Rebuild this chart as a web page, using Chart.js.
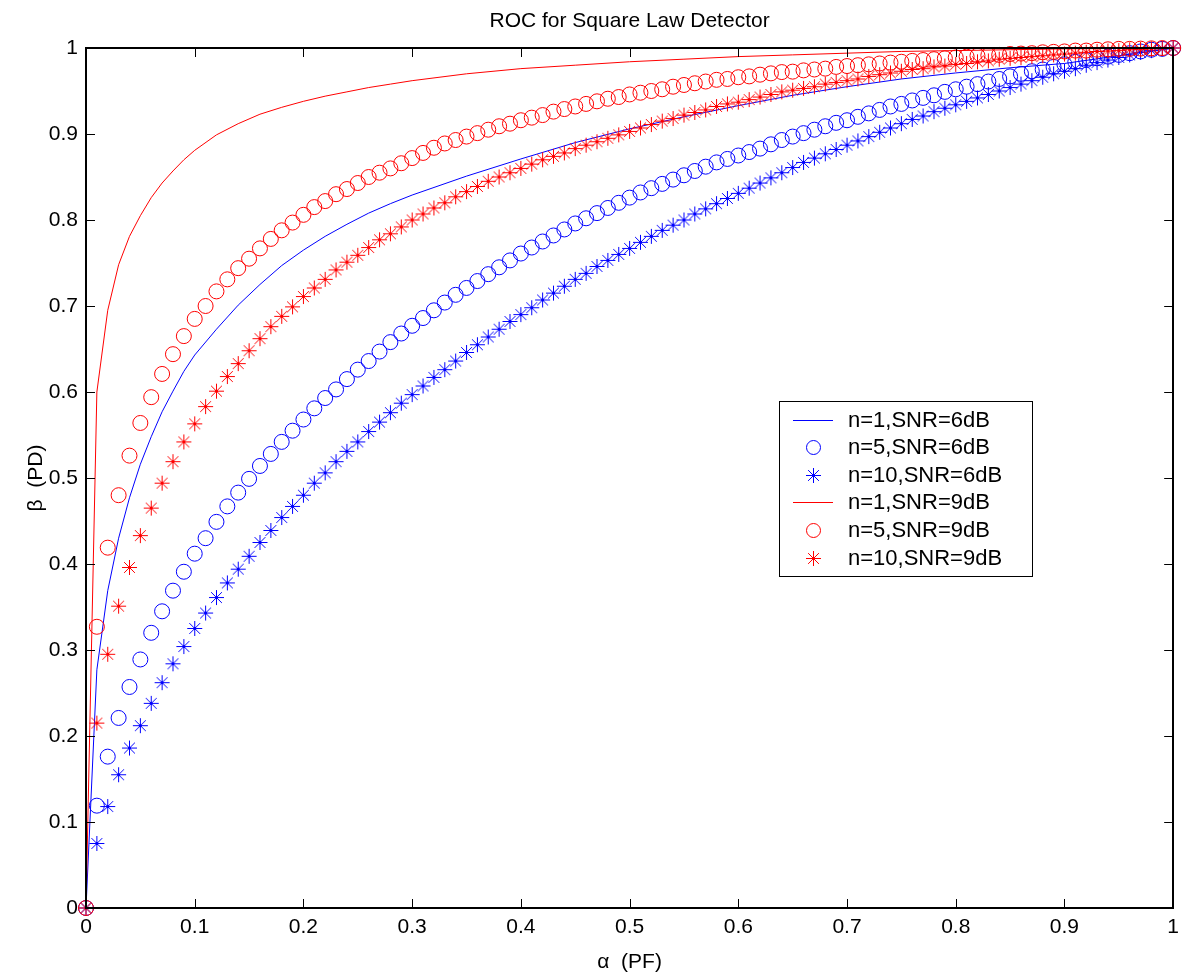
<!DOCTYPE html>
<html lang="en">
<head>
  <meta charset="UTF-8">
  <title>ROC for Square Law Detector</title>
  <script src="https://cdn.jsdelivr.net/npm/chart.js"></script>
  <style>
    body { margin: 0; background: #fff; }
    canvas { display: block; }
  </style>
</head>
<body>
  <canvas id="roc" width="1186" height="979"></canvas>

  <script>
    // PF values used by the marker series (step 0.01)
    const pf = [0, 0.01, 0.02, 0.03, 0.04, 0.05, 0.06, 0.07, 0.08, 0.09,
      0.1, 0.11, 0.12, 0.13, 0.14, 0.15, 0.16, 0.17, 0.18, 0.19,
      0.2, 0.21, 0.22, 0.23, 0.24, 0.25, 0.26, 0.27, 0.28, 0.29,
      0.3, 0.31, 0.32, 0.33, 0.34, 0.35, 0.36, 0.37, 0.38, 0.39,
      0.4, 0.41, 0.42, 0.43, 0.44, 0.45, 0.46, 0.47, 0.48, 0.49,
      0.5, 0.51, 0.52, 0.53, 0.54, 0.55, 0.56, 0.57, 0.58, 0.59,
      0.6, 0.61, 0.62, 0.63, 0.64, 0.65, 0.66, 0.67, 0.68, 0.69,
      0.7, 0.71, 0.72, 0.73, 0.74, 0.75, 0.76, 0.77, 0.78, 0.79,
      0.8, 0.81, 0.82, 0.83, 0.84, 0.85, 0.86, 0.87, 0.88, 0.89,
      0.9, 0.91, 0.92, 0.93, 0.94, 0.95, 0.96, 0.97, 0.98, 0.99, 1];

    // PF values used by the two n=1 lines
    const pfLine = [0, 0.01, 0.02, 0.03, 0.04, 0.05, 0.06, 0.07, 0.08, 0.09, 0.1,
      0.12, 0.14, 0.16, 0.18, 0.2, 0.22, 0.24, 0.26, 0.28, 0.3,
      0.35, 0.4, 0.45, 0.5, 0.55, 0.6, 0.65, 0.7, 0.75, 0.8, 0.85, 0.9, 0.95, 1];

    const pdN1Snr6 = [0, 0.277, 0.369, 0.43, 0.477, 0.516, 0.548, 0.577, 0.601, 0.624, 0.643,
      0.673, 0.701, 0.725, 0.747, 0.765, 0.781, 0.795, 0.808, 0.819, 0.829,
      0.851, 0.871, 0.89, 0.906, 0.92, 0.933, 0.945, 0.955, 0.964, 0.971, 0.977, 0.982, 0.991, 1];

    const pdN1Snr9 = [0, 0.6, 0.695, 0.748, 0.781, 0.805, 0.826, 0.843, 0.857, 0.87, 0.881,
      0.899, 0.912, 0.923, 0.931, 0.938, 0.944, 0.949, 0.954, 0.958, 0.962,
      0.97, 0.976, 0.98, 0.984, 0.987, 0.99, 0.992, 0.994, 0.996, 0.997, 0.998, 0.999, 0.9995, 1];

    const pdN5Snr6 = [0, 0.119, 0.176, 0.221, 0.257, 0.289, 0.32, 0.345, 0.369, 0.391,
      0.412, 0.43, 0.449, 0.467, 0.483, 0.499, 0.514, 0.528, 0.542, 0.555,
      0.568, 0.581, 0.593, 0.603, 0.615, 0.626, 0.636, 0.647, 0.658, 0.668,
      0.677, 0.686, 0.695, 0.704, 0.713, 0.721, 0.729, 0.737, 0.745, 0.753,
      0.761, 0.768, 0.775, 0.782, 0.789, 0.796, 0.802, 0.808, 0.814, 0.82,
      0.826, 0.832, 0.837, 0.842, 0.847, 0.852, 0.857, 0.862, 0.867, 0.871,
      0.875, 0.879, 0.883, 0.888, 0.893, 0.897, 0.901, 0.905, 0.909, 0.913,
      0.916, 0.92, 0.924, 0.928, 0.932, 0.935, 0.939, 0.942, 0.945, 0.949,
      0.952, 0.955, 0.958, 0.961, 0.964, 0.967, 0.97, 0.973, 0.975, 0.978,
      0.981, 0.984, 0.986, 0.988, 0.99, 0.992, 0.994, 0.996, 0.998, 0.999, 1];

    const pdN10Snr6 = [0, 0.075, 0.118, 0.155, 0.186, 0.212, 0.238, 0.262, 0.284, 0.304,
      0.325, 0.343, 0.361, 0.378, 0.394, 0.409, 0.425, 0.439, 0.454, 0.467,
      0.48, 0.494, 0.506, 0.519, 0.531, 0.542, 0.554, 0.565, 0.576, 0.587,
      0.597, 0.607, 0.617, 0.626, 0.636, 0.646, 0.655, 0.664, 0.673, 0.682,
      0.69, 0.698, 0.707, 0.715, 0.723, 0.731, 0.738, 0.746, 0.753, 0.76,
      0.767, 0.774, 0.781, 0.788, 0.794, 0.8, 0.807, 0.813, 0.819, 0.825,
      0.831, 0.837, 0.843, 0.849, 0.855, 0.861, 0.867, 0.872, 0.877, 0.882,
      0.887, 0.892, 0.897, 0.902, 0.907, 0.912, 0.917, 0.921, 0.926, 0.93,
      0.934, 0.938, 0.942, 0.946, 0.95, 0.954, 0.958, 0.962, 0.966, 0.97,
      0.973, 0.976, 0.98, 0.983, 0.986, 0.989, 0.992, 0.995, 0.997, 0.999, 1];

    const pdN5Snr9 = [0, 0.327, 0.419, 0.48, 0.526, 0.564, 0.594, 0.621, 0.644, 0.665,
      0.685, 0.7, 0.717, 0.731, 0.744, 0.755, 0.767, 0.778, 0.788, 0.797,
      0.806, 0.815, 0.822, 0.83, 0.836, 0.843, 0.85, 0.855, 0.86, 0.866,
      0.872, 0.878, 0.884, 0.889, 0.893, 0.897, 0.901, 0.905, 0.909, 0.912,
      0.916, 0.919, 0.922, 0.926, 0.929, 0.932, 0.935, 0.938, 0.941, 0.943,
      0.946, 0.948, 0.95, 0.952, 0.955, 0.957, 0.959, 0.961, 0.963, 0.964,
      0.966, 0.967, 0.969, 0.9705, 0.972, 0.9725, 0.974, 0.975, 0.976, 0.978,
      0.979, 0.98, 0.981, 0.982, 0.983, 0.984, 0.985, 0.986, 0.987, 0.988,
      0.989, 0.99, 0.991, 0.9915, 0.992, 0.993, 0.9935, 0.994, 0.995, 0.9955,
      0.996, 0.997, 0.997, 0.998, 0.9985, 0.999, 0.999, 0.9993, 0.9996, 0.9999, 1];

    const pdN10Snr9 = [0, 0.215, 0.295, 0.351, 0.396, 0.433, 0.465, 0.494, 0.519, 0.542,
      0.563, 0.583, 0.601, 0.618, 0.633, 0.648, 0.662, 0.676, 0.688, 0.699,
      0.711, 0.721, 0.731, 0.742, 0.751, 0.759, 0.768, 0.777, 0.784, 0.792,
      0.8, 0.807, 0.814, 0.82, 0.827, 0.833, 0.839, 0.845, 0.85, 0.855,
      0.86, 0.865, 0.87, 0.874, 0.878, 0.883, 0.887, 0.891, 0.895, 0.899,
      0.903, 0.907, 0.911, 0.915, 0.918, 0.922, 0.925, 0.928, 0.932, 0.935,
      0.937, 0.94, 0.943, 0.946, 0.949, 0.951, 0.953, 0.955, 0.958, 0.96,
      0.962, 0.964, 0.967, 0.969, 0.971, 0.973, 0.975, 0.976, 0.978, 0.979,
      0.981, 0.982, 0.984, 0.985, 0.987, 0.988, 0.989, 0.99, 0.991, 0.992,
      0.993, 0.994, 0.995, 0.996, 0.9965, 0.997, 0.998, 0.9985, 0.999, 0.9995, 1];

    const xTicks = [0, 0.1, 0.2, 0.3, 0.4, 0.5, 0.6, 0.7, 0.8, 0.9, 1];
    const yTicks = [0, 0.1, 0.2, 0.3, 0.4, 0.5, 0.6, 0.7, 0.8, 0.9, 1];

    const seriesLabels = ["n=1,SNR=6dB", "n=5,SNR=6dB", "n=10,SNR=6dB",
      "n=1,SNR=9dB", "n=5,SNR=9dB", "n=10,SNR=9dB"];

    const BLUE = "rgb(0,0,255)";
    const RED = "rgb(255,0,0)";
    const FONT = "'Liberation Sans', Arial, Helvetica, sans-serif";

    // MATLAB '*' marker as a small sprite (plus sign and a slightly shorter x)
    function starSprite(color) {
      const c = document.createElement("canvas");
      c.width = 17; c.height = 17;
      const g = c.getContext("2d");
      const m = 8.5, r = 7.5, d = 5.4;
      g.strokeStyle = color;
      g.lineWidth = 1;
      g.beginPath();
      g.moveTo(m - r, m); g.lineTo(m + r, m);
      g.moveTo(m, m - r); g.lineTo(m, m + r);
      g.moveTo(m - d, m - d); g.lineTo(m + d, m + d);
      g.moveTo(m - d, m + d); g.lineTo(m + d, m - d);
      g.stroke();
      return c;
    }

    function toPoints(xs, ys) {
      return xs.map((x, i) => ({ x: x, y: ys[i] }));
    }

    function lineSet(label, xs, ys, color, order) {
      return {
        label: label, data: toPoints(xs, ys), showLine: true,
        borderColor: color, borderWidth: 1, pointRadius: 0, pointHoverRadius: 0,
        fill: false, tension: 0, order: order
      };
    }

    function markerSet(label, ys, color, style, order) {
      return {
        label: label, data: toPoints(pf, ys), showLine: false,
        borderColor: color, backgroundColor: "rgba(255,255,255,0)",
        pointBorderColor: color, pointBackgroundColor: "rgba(255,255,255,0)",
        pointStyle: style, pointRadius: 7.5, pointBorderWidth: 1,
        pointHoverRadius: 7.5, clip: false, order: order
      };
    }

    const blueStar = starSprite(BLUE);
    const redStar = starSprite(RED);

    // MATLAB draws later series on top, Chart.js draws lower order on top
    const datasets = [
      lineSet(seriesLabels[0], pfLine, pdN1Snr6, BLUE, 6),
      markerSet(seriesLabels[1], pdN5Snr6, BLUE, "circle", 5),
      markerSet(seriesLabels[2], pdN10Snr6, BLUE, blueStar, 4),
      lineSet(seriesLabels[3], pfLine, pdN1Snr9, RED, 3),
      markerSet(seriesLabels[4], pdN5Snr9, RED, "circle", 2),
      markerSet(seriesLabels[5], pdN10Snr9, RED, redStar, 1)
    ];

    // box, inward ticks, title and legend in MATLAB style
    const matlabFrame = {
      id: "matlabFrame",
      afterDraw(chart) {
        const { ctx, chartArea: a, scales } = chart;
        const tick = 9;
        ctx.save();
        ctx.strokeStyle = "#000";
        ctx.lineWidth = 1;
        ctx.beginPath();
        xTicks.forEach(v => {
          const px = Math.round(scales.x.getPixelForValue(v)) + 0.5;
          ctx.moveTo(px, a.bottom); ctx.lineTo(px, a.bottom - tick);
          ctx.moveTo(px, a.top); ctx.lineTo(px, a.top + tick);
        });
        yTicks.forEach(v => {
          const py = Math.round(scales.y.getPixelForValue(v)) + 0.5;
          ctx.moveTo(a.left, py); ctx.lineTo(a.left + tick, py);
          ctx.moveTo(a.right, py); ctx.lineTo(a.right - tick, py);
        });
        ctx.stroke();
        ctx.lineWidth = 2;
        ctx.strokeRect(Math.round(a.left), Math.round(a.top),
          Math.round(a.right - a.left), Math.round(a.bottom - a.top));

        // title
        ctx.fillStyle = "#000";
        ctx.font = "21px " + FONT;
        ctx.textAlign = "center";
        ctx.textBaseline = "middle";
        ctx.fillText("ROC for Square Law Detector", (a.left + a.right) / 2, 21);

        // legend
        const box = { x: 779.5, y: 401.5, w: 253, h: 175 };
        const rowH = 27.6;
        ctx.lineWidth = 1;
        ctx.fillStyle = "#fff";
        ctx.fillRect(box.x, box.y, box.w, box.h);
        ctx.strokeStyle = "#000";
        ctx.strokeRect(box.x, box.y, box.w, box.h);
        ctx.font = "22px " + FONT;
        ctx.textAlign = "left";
        datasets.forEach((ds, i) => {
          const cy = Math.round(box.y + 18 + i * rowH) + 0.5;
          if (ds.showLine) {
            ctx.strokeStyle = ds.borderColor;
            ctx.beginPath();
            ctx.moveTo(793, cy);
            ctx.lineTo(833, cy);
            ctx.stroke();
          } else if (typeof ds.pointStyle === "string") {
            ctx.strokeStyle = ds.pointBorderColor;
            ctx.fillStyle = ds.pointBackgroundColor;
            ctx.lineWidth = 1;
            Chart.helpers.drawPoint(ctx, {
              pointStyle: ds.pointStyle, radius: 7, borderWidth: 1, rotation: 0
            }, 813.5, cy);
          } else {
            ctx.drawImage(ds.pointStyle, 805, cy - 8.5);
          }
          ctx.fillStyle = "#000";
          ctx.fillText(ds.label, 848, cy + 0.5);
        });
        ctx.restore();
      }
    };

    new Chart(document.getElementById("roc"), {
      type: "scatter",
      data: { datasets: datasets },
      options: {
        responsive: false,
        animation: false,
        events: [],
        layout: { padding: { top: 48, right: 10, left: 0, bottom: 0 } },
        plugins: {
          legend: { display: false },
          title: { display: false },
          tooltip: { enabled: false }
        },
        scales: {
          x: {
            type: "linear", min: 0, max: 1,
            afterBuildTicks: s => { s.ticks = xTicks.map(v => ({ value: v })); },
            afterFit: s => { s.height = 71; },
            grid: { display: false, drawTicks: false },
            border: { display: false },
            ticks: {
              color: "#000", padding: 7, maxRotation: 0, autoSkip: false,
              font: { family: FONT, size: 21 },
              callback: v => String(v)
            },
            title: {
              display: true, text: "\u03b1  (PF)", color: "#000",
              font: { family: FONT, size: 21 }, padding: { top: 0, bottom: 4 }
            }
          },
          y: {
            type: "linear", min: 0, max: 1,
            afterBuildTicks: s => { s.ticks = yTicks.map(v => ({ value: v })); },
            afterFit: s => { s.width = 86; },
            grid: { display: false, drawTicks: false },
            border: { display: false },
            ticks: {
              color: "#000", padding: 8, autoSkip: false,
              font: { family: FONT, size: 21 },
              callback: v => String(v)
            },
            title: {
              display: true, text: "\u03b2  (PD)", color: "#000",
              font: { family: FONT, size: 21 }, padding: { top: 24, bottom: 0 }
            }
          }
        }
      },
      plugins: [matlabFrame]
    });
  </script>
</body>
</html>
